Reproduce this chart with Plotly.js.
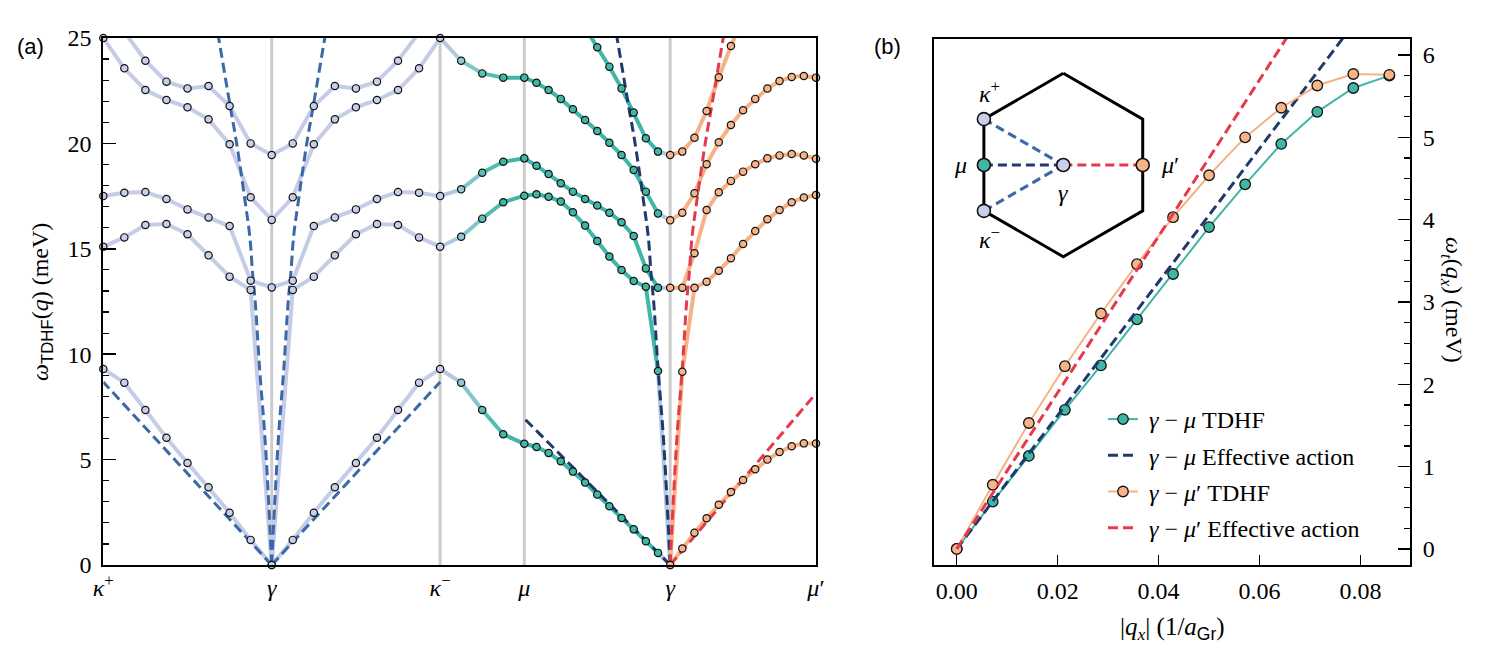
<!DOCTYPE html>
<html><head><meta charset="utf-8">
<script src="https://cdn.plot.ly/plotly-3.0.1.min.js"></script>
<style>html,body{margin:0;padding:0;background:#fff}#chart{width:1498px;height:666px}</style>
</head><body><div id="chart"></div>
<script>
// ================= DATA =================
// path through the Brillouin zone: κ+ → γ → κ− → μ → γ → μ'  (positions in 1/a_Gr)
const pathNodes  = [0, 0.09896, 0.19792, 0.24740, 0.33310, 0.41880];
const pathSteps  = [8, 8, 4, 12, 12];
const pathLabels = ['<i>κ</i><sup>+</sup>', '<i>γ</i>', '<i>κ</i><sup>−</sup>', '<i>μ</i>', '<i>γ</i>', '<i>μ</i>′'];

// TDHF bands (meV), one value per sample along the path (45 samples)
const band0 = [9.30, 8.65, 7.35, 6.04, 4.84, 3.69, 2.48, 1.19, 0,
               1.19, 2.48, 3.69, 4.84, 6.04, 7.35, 8.65, 9.30,
               8.65, 7.35, 6.20, 5.75,
               5.60, 5.31, 4.92, 4.43, 3.91, 3.34, 2.79, 2.23, 1.69, 1.13, 0.575, 0,
               0.78, 1.53, 2.22, 2.86, 3.46, 4.03, 4.54, 5.00, 5.36, 5.63, 5.77, 5.76];
const band1 = [15.10, 15.54, 16.13, 16.18, 15.69, 14.69, 13.68, 13.05, 0,
               13.05, 13.68, 14.69, 15.69, 16.18, 16.13, 15.54, 15.10,
               15.57, 16.43, 17.21, 17.52,
               17.59, 17.47, 17.24, 16.73, 16.10, 15.37, 14.63, 13.99, 13.47, 13.20, 9.20, 0,
               9.17, 13.15, 13.44, 13.96, 14.55, 15.23, 15.84, 16.40, 16.84, 17.21, 17.43, 17.55];
const band2 = [17.50, 17.66, 17.69, 17.36, 16.87, 16.49, 16.08, 13.49, 13.17,
               13.49, 16.08, 16.49, 16.87, 17.36, 17.69, 17.66, 17.50,
               17.82, 18.61, 19.13, 19.29,
               18.94, 18.55, 18.11, 17.71, 17.36, 17.05, 16.71, 16.26, 15.61, 14.07, 13.15, 13.15,
               13.15, 14.79, 16.84, 17.68, 18.22, 18.66, 19.01, 19.29, 19.43, 19.50, 19.43, 19.27];
const band3 = [25.00, 23.56, 22.53, 22.06, 21.71, 21.14, 19.96, 17.44, 16.37,
               17.44, 19.96, 21.14, 21.71, 22.06, 22.53, 23.56, 25.00,
               23.92, 23.32, 23.12, 23.12,
               22.88, 22.53, 22.11, 21.62, 21.11, 20.59, 20.03, 19.45, 18.74, 17.71, 16.68, 16.35,
               16.71, 17.63, 19.01, 20.05, 20.87, 21.57, 22.11, 22.60, 22.96, 23.15, 23.20, 23.12];
const band4 = [26.6, 25.3, 23.92, 22.93, 22.61, 22.72, 21.77, 20.00, 19.45,
               20.00, 21.77, 22.72, 22.61, 22.93, 23.92, 25.3, 26.6,
               27.5, 28.0, 28.0, 27.8,
               27.6, 27.4, 27.2, 26.6, 25.5, 24.56, 23.64, 22.61, 21.46, 20.24, 19.61, 19.45,
               19.61, 20.27, 21.54, 23.14, 24.62, 26.2, 27.5, 28.0, 28.0, 28.0, 28.0, 28.0];

// effective action: linear (acoustic) branches, |q| (1/a_Gr) -> ω (meV)
const effKappaQ = [0, 0.09896], effKappaW = [0, 8.68];
const effMuQ    = [0, 0.0857],  effMuW    = [0, 6.95];
const effMuPQ   = [0, 0.0857],  effMuPW   = [0, 8.14];
// effective action: steep branch near γ
const steepQ = [0, 0.0018, 0.0041, 0.0071, 0.0097, 0.0112, 0.0129, 0.0159, 0.0206, 0.0247, 0.0312, 0.0341];
const steepW = [0, 3.0, 6.2, 9.3, 12.5, 13.8, 15.6, 17.4, 20.0, 21.9, 25.0, 26.3];

// panel (b): lowest band, TDHF
const tdhfQ   = [0, 0.00714, 0.01429, 0.02143, 0.02857, 0.03571, 0.04286, 0.05, 0.05714, 0.06429, 0.07143, 0.07857, 0.08571];
const tdhfMu  = [0, 0.575, 1.13, 1.69, 2.23, 2.79, 3.34, 3.91, 4.43, 4.92, 5.31, 5.60, 5.75];
const tdhfMuP = [0, 0.78, 1.53, 2.22, 2.86, 3.46, 4.03, 4.54, 5.00, 5.36, 5.63, 5.77, 5.76];
const legendNames = ['<i>γ</i> − <i>μ</i> TDHF', '<i>γ</i> − <i>μ</i> Effective action',
                     '<i>γ</i> − <i>μ</i>′ TDHF', '<i>γ</i> − <i>μ</i>′ Effective action'];

// inset: hexagonal Brillouin zone (unit circumradius)
const hexX = [0, 0.866, 0.866, 0, -0.866, -0.866, 0];
const hexY = [1, 0.5, -0.5, -1, -0.5, 0.5, 1];
const insetNames = ['κ+', 'μ', 'κ−', 'γ', 'μ′'];
const insetX = [-0.866, -0.866, -0.866, 0, 0.866];
const insetY = [0.5, 0, -0.5, 0, 0];

// ================= STYLE =================
const teal='#40b6a6', orange='#f6b284', lav='#c5cce6', lavM='#c9cfe9';
const blue='#3b69a7', navy='#1f3a6d', red='#e43a4b', grey='#cccccc';
const serif='Liberation Serif', sans='Liberation Sans';
const W=1498, H=666;
const px=v=>v/W, py=v=>1-v/H;

// sample positions along the path
const s=[];
for(let i=0;i<pathSteps.length;i++){
  const a=pathNodes[i], b=pathNodes[i+1], n=pathSteps[i];
  for(let j=(i===0?0:1); j<=n; j++) s.push(a+(b-a)*j/n);
}
function segColor(k){
  if(k<16) return lav;
  if(k===16) return '#b0c9df';
  if(k===17) return '#84c5ca';
  if(k===18) return '#55bdae';
  if(k<31) return teal;
  if(k===31) return '#b3c7df';
  return orange;
}
function ptColor(k){
  if(k<=16) return lavM;
  if(k===17) return '#92c9d1';
  if(k===18) return '#5dbfb3';
  if(k<=31) return teal;
  return '#f7b488';
}

const traces=[];
const bands=[band0,band1,band2,band3,band4];
bands.forEach(b=>{
  let start=0;
  for(let k=0;k<b.length-1;k++){
    const c=segColor(k);
    if(k===b.length-2 || segColor(k+1)!==c){
      traces.push({x:s.slice(start,k+2), y:b.slice(start,k+2), mode:'lines',
        line:{color:c,width:4}, xaxis:'x', yaxis:'y', showlegend:false, hoverinfo:'skip'});
      start=k+1;
    }
  }
});
// effective action dashed lines, panel (a)
const dash='10px,5px';
function dl(x,y,c,spline){return {x:x,y:y,mode:'lines',line:{color:c,width:3,dash:dash,shape:spline?'spline':'linear'},
  xaxis:'x',yaxis:'y',showlegend:false,hoverinfo:'skip'};}
traces.push(dl(effKappaQ.map(q=>pathNodes[1]-q), effKappaW, blue));
traces.push(dl(effKappaQ.map(q=>pathNodes[1]+q), effKappaW, blue));
traces.push(dl(effMuQ.map(q=>pathNodes[4]-q), effMuW, navy));
traces.push(dl(effMuPQ.map(q=>pathNodes[4]+q), effMuPW, red));
traces.push(dl(steepQ.map(q=>pathNodes[1]-q), steepW, blue, true));
traces.push(dl(steepQ.map(q=>pathNodes[1]+q), steepW, blue, true));
traces.push(dl(steepQ.map(q=>pathNodes[4]-q), steepW, navy, true));
traces.push(dl(steepQ.map(q=>pathNodes[4]+q), steepW, red, true));
// markers panel (a)
const mx=[],my=[],mc=[];
bands.forEach(b=>b.forEach((v,k)=>{ if(v<=25.05){mx.push(s[k]);my.push(v);mc.push(ptColor(k));} }));
traces.push({x:mx,y:my,mode:'markers',marker:{size:7.3,color:mc,line:{color:'#111',width:1.2}},
  cliponaxis:false,xaxis:'x',yaxis:'y',showlegend:false,hoverinfo:'skip'});

// panel (b)
const gap='\u00a0';
traces.push({x:tdhfQ,y:tdhfMu,mode:'lines+markers',name:gap+legendNames[0],legendgroup:'a',
  line:{color:teal,width:2},marker:{size:10.5,color:teal,line:{color:'#111',width:1.3}},cliponaxis:false,xaxis:'x2',yaxis:'y2'});
traces.push({x:effMuQ,y:effMuW,mode:'lines',name:gap+legendNames[1],legendgroup:'b',
  line:{color:navy,width:3,dash:dash},xaxis:'x2',yaxis:'y2'});
traces.push({x:tdhfQ,y:tdhfMuP,mode:'lines+markers',name:gap+legendNames[2],legendgroup:'c',
  line:{color:orange,width:2},marker:{size:10.5,color:'#f7b488',line:{color:'#111',width:1.3}},cliponaxis:false,xaxis:'x2',yaxis:'y2'});
traces.push({x:effMuPQ,y:effMuPW,mode:'lines',name:gap+legendNames[3],legendgroup:'d',
  line:{color:red,width:3,dash:dash},xaxis:'x2',yaxis:'y2'});

// inset
traces.push({x:hexX,y:hexY,mode:'lines',line:{color:'#000',width:3},xaxis:'x3',yaxis:'y3',showlegend:false,hoverinfo:'skip'});
const insetLineColor=[blue,navy,blue];
[0,1,2].forEach(i=>traces.push({x:[insetX[i],insetX[3]],y:[insetY[i],insetY[3]],mode:'lines',
  line:{color:insetLineColor[i],width:3,dash:'9px,5px'},xaxis:'x3',yaxis:'y3',showlegend:false,hoverinfo:'skip'}));
traces.push({x:[insetX[3],insetX[4]],y:[insetY[3],insetY[4]],mode:'lines',
  line:{color:red,width:3,dash:'9px,5px'},xaxis:'x3',yaxis:'y3',showlegend:false,hoverinfo:'skip'});
traces.push({x:insetX,y:insetY,mode:'markers',text:insetNames,
  marker:{size:13,color:[lavM,teal,lavM,lavM,'#f7b488'],line:{color:'#111',width:1.6}},
  cliponaxis:false,xaxis:'x3',yaxis:'y3',showlegend:false,hoverinfo:'skip'});

const tickFont={family:serif,size:24,color:'#000'};
function ann(text,x,y,o){return Object.assign({text:text,xref:'paper',yref:'paper',x:x,y:y,showarrow:false,
  xanchor:'center',yanchor:'middle',font:{family:serif,size:24,color:'#000'}},o||{});}
const layout={
  width:W,height:H,margin:{l:0,r:0,t:0,b:0},paper_bgcolor:'#fff',plot_bgcolor:'rgba(0,0,0,0)',
  font:{family:serif,color:'#000'},
  xaxis:{domain:[px(103.3),px(816)],range:[pathNodes[0],pathNodes[5]],tickvals:pathNodes,ticktext:pathLabels,
    ticks:'',showline:true,linewidth:2,linecolor:'#000',mirror:true,showgrid:false,zeroline:false,
    tickfont:tickFont,anchor:'y'},
  yaxis:{domain:[py(565),py(38)],range:[0,25],dtick:5,ticks:'inside',ticklen:13,tickwidth:1.5,tickcolor:'#000',
    minor:{dtick:1,ticks:'inside',ticklen:6,tickwidth:1.2,tickcolor:'#000'},
    showline:true,linewidth:2,linecolor:'#000',mirror:true,showgrid:false,zeroline:false,tickfont:tickFont,
    ticklabelstandoff:5,anchor:'x'},
  xaxis2:{domain:[px(934),px(1410)],range:[-0.0045,0.0898],tickvals:[0,0.02,0.04,0.06,0.08],
    ticktext:['0.00','0.02','0.04','0.06','0.08'],ticks:'inside',ticklen:10,tickwidth:1.5,tickcolor:'#000',
    showline:true,linewidth:2,linecolor:'#000',mirror:true,showgrid:false,zeroline:false,tickfont:tickFont,
    ticklabelstandoff:3,anchor:'y2'},
  yaxis2:{domain:[py(565),py(39)],range:[-0.195,6.195],dtick:1,side:'right',ticks:'inside',ticklen:12,tickwidth:1.5,tickcolor:'#000',
    minor:{dtick:0.25,ticks:'inside',ticklen:6,tickwidth:1.2,tickcolor:'#000'},
    showline:true,linewidth:2,linecolor:'#000',mirror:true,showgrid:false,zeroline:false,tickfont:tickFont,
    ticklabelstandoff:6,anchor:'x2'},
  xaxis3:{domain:[px(940),px(1200)],range:[-1.3446,1.4907],visible:false,anchor:'y3'},
  yaxis3:{domain:[py(270),py(60)],range:[-1.145,1.145],visible:false,anchor:'x3'},
  shapes:[1,2,3,4].map(i=>({type:'line',xref:'x',yref:'y domain',x0:pathNodes[i],x1:pathNodes[i],y0:0,y1:1,
    line:{color:grey,width:3},layer:'below'})),
  legend:{x:px(1103),y:py(397),xanchor:'left',yanchor:'top',bgcolor:'rgba(0,0,0,0)',
    font:{family:serif,size:24,color:'#000'},tracegroupgap:2,itemwidth:30},
  annotations:[
    ann('(a)',px(30),py(46),{font:{family:sans,size:22,color:'#000'}}),
    ann('(b)',px(887),py(46),{font:{family:sans,size:22,color:'#000'}}),
    ann("<i>ω</i><sub><span style='font-family:Liberation Sans'>TDHF</span></sub>(<i>q</i>) (meV)",px(42),py(302),{textangle:-90}),
    ann('<i>ω<sub>t</sub></i>(<i>q<sub>x</sub></i>) (meV)',px(1452),py(300),{textangle:90}),
    ann("|<i>q<sub>x</sub></i>| (1/<i>a</i><sub><span style='font-family:Liberation Sans'>Gr</span></sub>)",px(1172),py(628),
      {font:{family:serif,size:25,color:'#000'}}),
    {text:'<i>κ</i><sup>+</sup>',xref:'x3',yref:'y3',x:-0.80,y:0.80,showarrow:false,xanchor:'center',yanchor:'middle',font:{family:serif,size:24}},
    {text:'<i>μ</i>',xref:'x3',yref:'y3',x:-1.12,y:0,showarrow:false,xanchor:'center',yanchor:'middle',font:{family:serif,size:24}},
    {text:'<i>γ</i>',xref:'x3',yref:'y3',x:0,y:-0.30,showarrow:false,xanchor:'center',yanchor:'middle',font:{family:serif,size:24}},
    {text:'<i>μ</i>′',xref:'x3',yref:'y3',x:1.16,y:0,showarrow:false,xanchor:'center',yanchor:'middle',font:{family:serif,size:24}},
    {text:'<i>κ</i><sup>−</sup>',xref:'x3',yref:'y3',x:-0.80,y:-0.80,showarrow:false,xanchor:'center',yanchor:'middle',font:{family:serif,size:24}}
  ]
};
Plotly.newPlot('chart',traces,layout,{staticPlot:true,displayModeBar:false});
</script></body></html>
